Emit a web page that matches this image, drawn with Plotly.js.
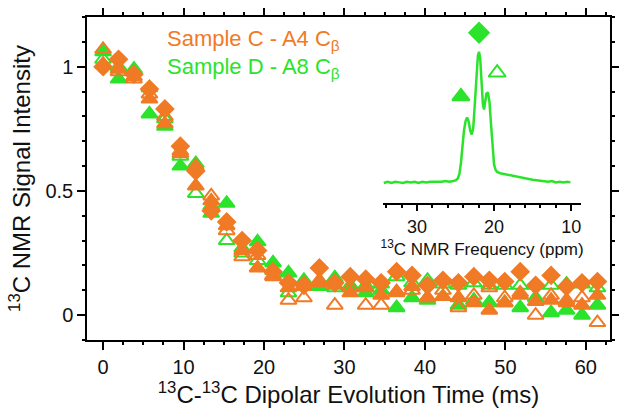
<!DOCTYPE html>
<html>
<head>
<meta charset="utf-8">
<script src="https://cdn.plot.ly/plotly-3.0.1.min.js"></script>
<style>body{margin:0;background:#fff}#plot{width:629px;height:414px}</style>
</head>
<body>
<div id="plot"></div>
<script>
// evolution times (ms)
var times = [0, 1.92, 3.84, 5.76, 7.68, 9.6, 11.52, 13.44, 15.36, 17.28, 19.2, 21.12, 23.04, 24.96, 26.88, 28.8, 30.72,
  32.64, 34.56, 36.48, 38.4, 40.32, 42.24, 44.16, 46.08, 48.0, 49.92, 51.84, 53.76, 55.68, 57.6, 59.52, 61.44];

// Sample C (orange)
var cDiamond = [1.00, 1.03, 0.97, 0.91, 0.83, 0.68, 0.58, 0.42, 0.375, 0.30, 0.26, 0.175, 0.13, 0.12, 0.19, 0.13, 0.155,
  0.145, 0.13, 0.175, 0.16, 0.12, 0.14, 0.13, 0.155, 0.14, 0.135, 0.175, 0.12, 0.16, 0.115, 0.13, 0.135];
var cTriFilled = [1.01, 0.99, 0.96, 0.87, 0.77, 0.65, 0.52, 0.46, 0.36, 0.26, 0.19, 0.155, 0.11, 0.115, 0.13, 0.12, 0.09,
  0.11, 0.08, 0.095, 0.115, 0.07, 0.075, 0.07, 0.05, 0.02, 0.05, 0.08, 0.055, 0.06, 0.05, 0.04, 0.08];
var cTriOpen = [1.07, 0.98, 0.95, 0.89, 0.80, 0.66, 0.60, 0.48, 0.34, 0.235, 0.24, 0.16, 0.06, 0.07, 0.14, 0.04, 0.11,
  0.04, 0.04, 0.09, 0.10, 0.07, 0.10, 0.03, 0.08, 0.11, 0.07, 0.09, 0.0, 0.08, 0.06, 0.07, -0.03];

// Sample D (green)
var dTriFilled = [1.06, 0.95, 0.98, 0.81, 0.76, 0.60, 0.61, 0.41, 0.45, 0.27, 0.295, 0.21, 0.17, 0.14, 0.115, 0.15, 0.11,
  0.09, 0.10, 0.03, 0.07, 0.06, 0.075, 0.04, 0.06, 0.05, 0.05, 0.03, 0.07, 0.01, 0.02, 0.0, 0.04];
var dTriOpen = [1.03, 1.00, 0.99, 0.915, 0.79, 0.64, 0.49, 0.44, 0.30, 0.25, 0.22, 0.18, 0.09, 0.12, 0.13, 0.11, 0.12,
  0.12, 0.125, 0.155, 0.13, 0.14, 0.125, 0.12, 0.13, 0.12, 0.12, 0.12, 0.12, 0.12, 0.125, 0.125, 0.11];

// inset spectrum
var ppm = [34.3, 33.8, 33.3, 32.8, 32.3, 31.8, 31.3, 30.8, 30.3, 29.8, 29.3, 28.8, 28.3, 27.8, 27.3, 26.8, 26.3, 25.8,
  25.3, 25.0, 24.7, 24.5, 24.3, 24.1, 23.9, 23.7, 23.5, 23.3, 23.1, 22.9, 22.7, 22.5, 22.3, 22.1, 21.95, 21.8, 21.6,
  21.45, 21.3, 21.15, 21.0, 20.8, 20.6, 20.4, 20.2, 20.0, 19.8, 19.6, 19.2, 18.8, 18.4, 18.0, 17.5, 17.0, 16.5, 16.0,
  15.5, 15.0, 14.5, 14.0, 13.5, 13.0, 12.5, 12.0, 11.5, 11.0, 10.5, 10.1];
var intensity = [0.0, 0.01, 0.0, 0.01, 0.005, 0.0, 0.01, 0.005, 0.01, 0.0, 0.01, 0.005, 0.01, 0.01, 0.005, 0.01, 0.015,
  0.01, 0.015, 0.02, 0.035, 0.07, 0.15, 0.28, 0.40, 0.47, 0.50, 0.47, 0.40, 0.37, 0.42, 0.60, 0.82, 0.97, 1.00, 0.95,
  0.75, 0.60, 0.56, 0.62, 0.68, 0.69, 0.62, 0.45, 0.25, 0.14, 0.10, 0.085, 0.075, 0.07, 0.065, 0.06, 0.05, 0.045, 0.04,
  0.035, 0.03, 0.025, 0.02, 0.02, 0.015, 0.01, 0.015, 0.005, 0.01, 0.005, 0.01, 0.005];

// peak key symbols in the inset
var keyPpm = [24.3, 21.95, 19.6];
var keyY = [0.66, 1.145, 0.84];
var keySymbols = ['triangle-up', 'diamond', 'triangle-up-open'];

var orange = '#F07A25';
var green = '#2BE32B';

function pts(y, color, symbol, size) {
  return {
    x: times, y: y, type: 'scatter', mode: 'markers', showlegend: false,
    marker: {color: color, symbol: symbol, size: size, line: {color: color, width: 2}}
  };
}

// invisible copies so the extra tick axes get drawn
function ghost(xa, ya) {
  return {x: times, y: cDiamond, xaxis: xa, yaxis: ya, type: 'scatter', mode: 'markers', showlegend: false,
    marker: {opacity: 0}, hoverinfo: 'skip'};
}

var data = [
  pts(dTriFilled, green, 'triangle-up', 14),
  pts(dTriOpen, green, 'triangle-up-open', 14),
  pts(cTriFilled, orange, 'triangle-up', 14),
  pts(cDiamond, orange, 'diamond', 13),
  pts(cTriOpen, orange, 'triangle-up-open', 14),
  {
    x: ppm, y: intensity, xaxis: 'x2', yaxis: 'y2', type: 'scatter', mode: 'lines',
    line: {color: green, width: 2.5}, showlegend: false
  },
  {
    x: keyPpm, y: keyY, xaxis: 'x2', yaxis: 'y2', type: 'scatter', mode: 'markers', showlegend: false,
    marker: {color: green, symbol: keySymbols, size: 15, line: {color: green, width: 2}}
  },
  ghost('x3', 'y3'),
  ghost('x4', 'y4'),
  ghost('x5', 'y5')
];

var font = {family: 'Arial, Liberation Sans, sans-serif', color: '#111', size: 20};

function tickAxis(over, side, anchor, range, dtick, len) {
  return {
    overlaying: over, side: side, anchor: anchor, range: range, tick0: 0, dtick: dtick,
    ticks: 'outside', ticklen: len, tickwidth: 1.5, tickcolor: '#000',
    showgrid: false, zeroline: false, showticklabels: false
  };
}

var layout = {
  width: 629, height: 414,
  margin: {l: 87, r: 19, t: 17, b: 74},
  paper_bgcolor: '#fff', plot_bgcolor: '#fff',
  font: font,
  showlegend: false,
  xaxis: {
    range: [-2, 63], showgrid: false, zeroline: false,
    showline: true, linecolor: '#000', linewidth: 1.5, mirror: true,
    ticks: 'outside', ticklen: 8, tickwidth: 1.5, tickcolor: '#000',
    tick0: 0, dtick: 10,
    title: {text: '<sup>13</sup>C-<sup>13</sup>C Dipolar Evolution Time (ms)', standoff: 6}
  },
  yaxis: {
    range: [-0.1, 1.2], showgrid: false, zeroline: false,
    showline: true, linecolor: '#000', linewidth: 1.5, mirror: true,
    ticks: 'outside', ticklen: 8, tickwidth: 1.5, tickcolor: '#000',
    tick0: 0, dtick: 0.5,
    title: {text: '<sup>13</sup>C NMR Signal Intensity', standoff: 8}
  },
  // top major / right major
  xaxis3: tickAxis('x', 'top', 'y3', [-2, 63], 10, 8),
  yaxis3: tickAxis('y', 'right', 'x3', [-0.1, 1.2], 0.5, 8),
  // bottom minor / right minor
  xaxis4: tickAxis('x', 'bottom', 'y4', [-2, 63], 2.5, 4),
  yaxis4: tickAxis('y', 'right', 'x4', [-0.1, 1.2], 0.1, 4),
  // top minor / left minor
  xaxis5: tickAxis('x', 'top', 'y5', [-2, 63], 2.5, 4),
  yaxis5: tickAxis('y', 'left', 'x5', [-0.1, 1.2], 0.1, 4),
  xaxis2: {
    domain: [0.566, 0.945], anchor: 'y2', range: [34.4, 8.7],
    showgrid: false, zeroline: false, showline: true, linecolor: '#000', linewidth: 1.5,
    ticks: 'outside', ticklen: 7, tickwidth: 1.5, tickcolor: '#000',
    tickvals: [30, 20, 10],
    minor: {dtick: 2, tick0: 0, ticks: 'outside', ticklen: 4, tickwidth: 1.5, tickcolor: '#000'},
    tickfont: {size: 18},
    title: {text: '<sup>13</sup>C NMR Frequency (ppm)', font: {size: 17}, standoff: 2}
  },
  yaxis2: {
    domain: [0.425, 0.994], anchor: 'x2', range: [-0.15, 1.25],
    visible: false, showgrid: false, zeroline: false
  },
  annotations: [
    {xref: 'paper', yref: 'paper', x: 0.149, y: 0.929, xanchor: 'left', yanchor: 'middle', showarrow: false,
      text: 'Sample C - A4 C<sub>β</sub>', font: {size: 22, color: orange}},
    {xref: 'paper', yref: 'paper', x: 0.149, y: 0.842, xanchor: 'left', yanchor: 'middle', showarrow: false,
      text: 'Sample D - A8 C<sub>β</sub>', font: {size: 22, color: green}}
  ]
};

Plotly.newPlot('plot', data, layout, {displayModeBar: false});
</script>
</body>
</html>
